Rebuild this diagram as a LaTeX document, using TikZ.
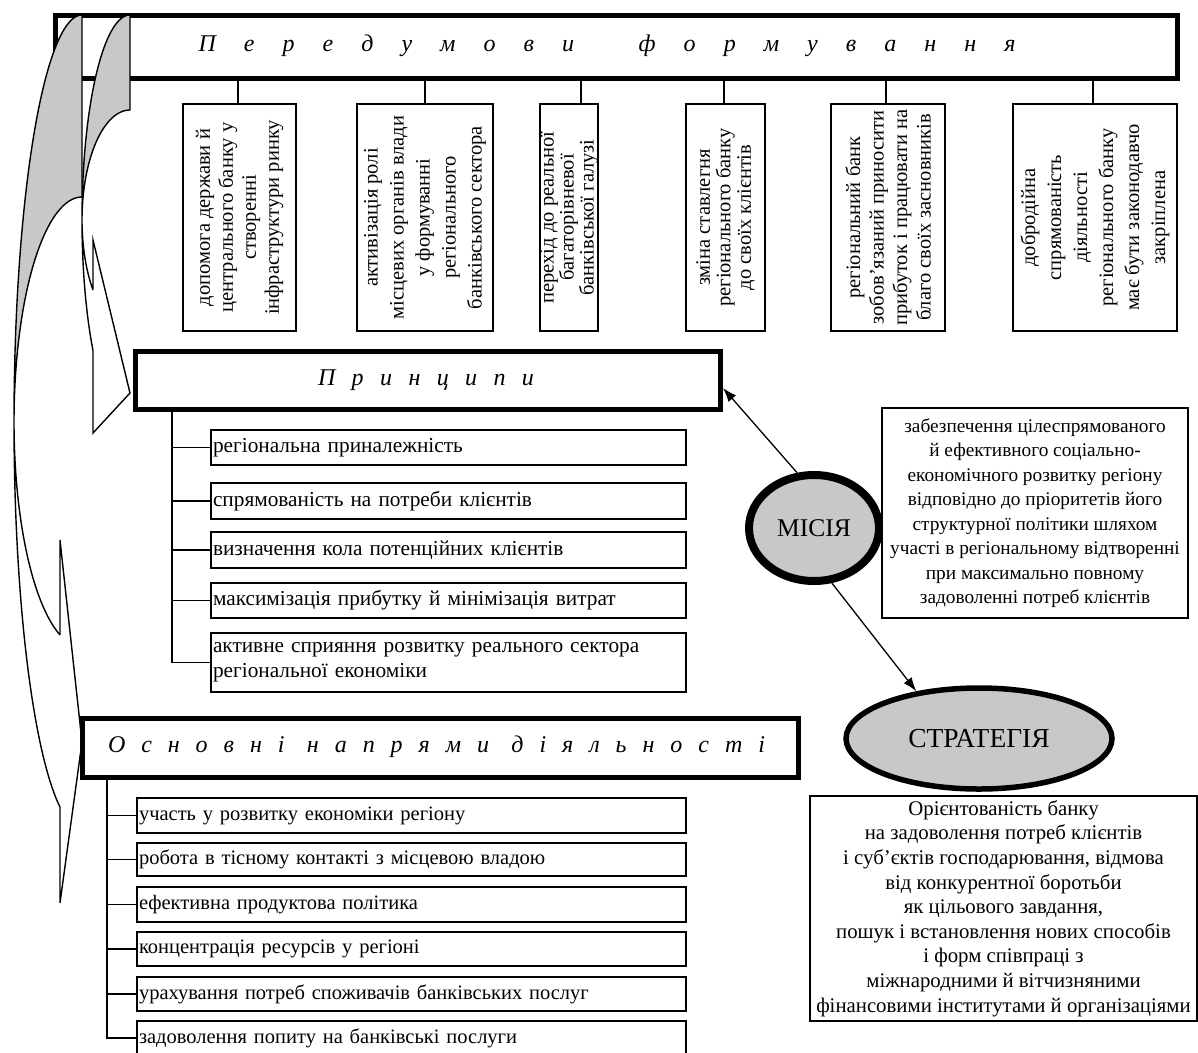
\documentclass[tikz,border=0pt]{standalone}
\usepackage{fontspec}
\setmainfont{Liberation Serif}
\usetikzlibrary{arrows.meta,shapes.geometric}
\definecolor{ltgray}{RGB}{200,200,200}
\newcommand\vtxt[2]{\rotatebox{90}{\parbox{222pt}{\centering\fontsize{20.5}{#1}\selectfont #2}}}
\begin{document}
\begin{tikzpicture}[x=1pt,y=-1pt,
  title/.style={draw, line width=5pt, inner sep=0pt},
  ttl/.style={inner sep=0pt, font=\fontsize{24}{28}\selectfont\itshape},
  vbox/.style={draw, line width=1.3pt, inner sep=0pt, minimum height=227},
  pitem/.style={draw, line width=1.3pt, inner xsep=2pt, inner ysep=0pt, align=left, text width=471pt, minimum width=475, font=\fontsize{21.3}{25}\selectfont},
  ditem/.style={draw, line width=1.3pt, inner xsep=2pt, inner ysep=0pt, align=left, text width=545pt, minimum width=549, font=\fontsize{20.5}{25}\selectfont},
  conn/.style={line width=1.4pt},
  arr/.style={line width=1.3pt, -{Latex[length=14pt,width=10pt]}},
  oval/.style={ellipse, draw, fill=ltgray, inner sep=0pt},
  txtbox/.style={draw, line width=1.3pt, align=center, inner sep=0pt},
  shp/.style={line width=1.4pt}]
\useasboundingbox (0,0) rectangle (1198,1052);

% ---------- top header ----------
\node[title, minimum width=1122, minimum height=63] (hdr) at (616,46.5) {};
\node[ttl] (hdrtxt) at (607,46) {\makebox[817pt]{П\hfill е\hfill р\hfill е\hfill д\hfill у\hfill м\hfill о\hfill в\hfill и\hskip 0pt plus 2.3fill ф\hfill о\hfill р\hfill м\hfill у\hfill в\hfill а\hfill н\hfill н\hfill я}};

% ---------- vertical boxes ----------
\node[vbox, minimum width=113] (v1) at (239.5,217.5) {\vtxt{23}{допомога держави й\\центрального банку у\\створенні\\інфраструктури ринку}};
\node[vbox, minimum width=136] (v2) at (425,217.5) {\vtxt{26}{активізація ролі\\місцевих органів влади\\у формуванні\\регіонального\\банківського сектора}};
\node[vbox, minimum width=56] (v3) at (569,217.5) {\vtxt{18.5}{перехід до реальної\\багаторівневої\\банківської галузі}};
\node[vbox, minimum width=79] (v4) at (725.5,217.5) {\vtxt{20.5}{зміна ставлегня\\регіонального банку\\до своїх клієнтів}};
\node[vbox, minimum width=114] (v5) at (888,217.5) {\vtxt{23.5}{регіональний банк\\зобов’язаний приносити\\прибуток і працювати на\\благо своїх засновників}};
\node[vbox, minimum width=164] (v6) at (1095,217.5) {\vtxt{26}{добродійна\\спрямованість\\діяльності\\регіонального банку\\має бути законодавчо\\закріплена}};

\foreach \n/\xx in {1/238,2/425,3/581,4/724,5/886,6/1093}{
  \coordinate (c\n) at (\xx,0);
  \draw[conn] (c\n |- hdr.south) -- (c\n |- v\n.north);
}

% ---------- principles ----------
\node[title, minimum width=585, minimum height=58] (pr) at (427.5,380) {};
\node[ttl] (prtxt) at (426,380) {\makebox[216pt]{П\hfill р\hfill и\hfill н\hfill ц\hfill и\hfill п\hfill и}};

\node[pitem, minimum height=35] (p1) at (448.5,447.5) {регіональна приналежність};
\node[pitem, minimum height=36] (p2) at (448.5,501) {спрямованість на потреби клієнтів};
\node[pitem, minimum height=36] (p3) at (448.5,550) {визначення кола потенційних клієнтів};
\node[pitem, minimum height=35] (p4) at (448.5,600.5) {максимізація прибутку й мінімізація витрат};
\node[pitem, minimum height=59] (p5) at (448.5,662.5) {активне сприяння розвитку реального сектора\\регіональної економіки};

\coordinate (pt) at (172,0);
\draw[conn] (pt |- pr.south) -- (pt |- p5.west) -- (p5.west);
\foreach \n in {1,2,3,4}{ \draw[conn] (pt |- p\n.west) -- (p\n.west); }

% ---------- directions ----------
\node[title, minimum width=716, minimum height=59] (dr) at (440,747.5) {};
\node[ttl] (drtxt) at (436.5,747) {\makebox[657pt]{О\hfill с\hfill н\hfill о\hfill в\hfill н\hfill і\hskip 0pt plus 1.4fill н\hfill а\hfill п\hfill р\hfill я\hfill м\hfill и\hskip 0pt plus 1.4fill д\hfill і\hfill я\hfill л\hfill ь\hfill н\hfill о\hfill с\hfill т\hfill і}};

\node[ditem, minimum height=35] (d1) at (411.5,815.5) {участь у розвитку економіки регіону};
\node[ditem, minimum height=33] (d2) at (411.5,859.5) {робота в тісному контакті з місцевою владою};
\node[ditem, minimum height=35] (d3) at (411.5,904.5) {ефективна продуктова політика};
\node[ditem, minimum height=34] (d4) at (411.5,949) {концентрація ресурсів у регіоні};
\node[ditem, minimum height=34] (d5) at (411.5,994) {урахування потреб споживачів банківських послуг};
\node[ditem, minimum height=34] (d6) at (411.5,1038) {задоволення попиту на банківські послуги};

\coordinate (dt) at (107,0);
\draw[conn] (dt |- dr.south) -- (dt |- d6.west) -- (d6.west);
\foreach \n in {1,2,3,4,5}{ \draw[conn] (dt |- d\n.west) -- (d\n.west); }

% ---------- mission / strategy ----------
\node[oval, line width=8pt, minimum width=130, minimum height=106, font=\fontsize{25.5}{28}\selectfont] (mis) at (814,528) {МІСІЯ};
\node[txtbox, minimum width=306, minimum height=210, font=\fontsize{19.3}{24.5}\selectfont] (mtx) at (1035,513) {забезпечення цілеспрямованого\\й ефективного соціально-\\економічного розвитку регіону\\відповідно до пріоритетів його\\структурної політики шляхом\\участі в регіональному відтворенні\\при максимально повному\\задоволенні потреб клієнтів};

\node[oval, line width=5.5pt, minimum width=266, minimum height=101, font=\fontsize{27.5}{30}\selectfont] (str) at (979,738.5) {СТРАТЕГІЯ};
\node[txtbox, minimum width=387, minimum height=225, font=\fontsize{20.8}{24.6}\selectfont] (stx) at (1003.5,908.5) {Орієнтованість банку\\на задоволення потреб клієнтів\\і суб’єктів господарювання, відмова\\від конкурентної боротьби\\як цільового завдання,\\пошук і встановлення нових способів\\і форм співпраці з\\міжнародними й вітчизняними\\фінансовими інститутами й організаціями};

\coordinate (pa) at (723,388);
\draw[arr] (mis.107) -- (pa);
\draw[arr] (mis.-72) -- (str.143);

% ---------- curved arrows (left) ----------
% inner arrow (to principles)
\fill[ltgray] plot[domain=270:180,samples=40,variable=\t] ({130+48*cos(\t)},{220+205*sin(\t)})
  -- plot[domain=180:270,samples=40,variable=\t] ({130+48*cos(\t)},{220+110*sin(\t)}) -- cycle;
\draw[shp, line join=miter] plot[domain=270:140.4,samples=60,variable=\t] ({130+48*cos(\t)},{220+205*sin(\t)})
  -- (93,433) -- (130,393) -- (93,240) -- (93,290)
  -- plot[domain=140.4:270,samples=60,variable=\t] ({130+48*cos(\t)},{220+110*sin(\t)}) -- cycle;
% outer arrow (to directions)
\fill[ltgray] plot[domain=270:180,samples=60,variable=\t] ({82+68*cos(\t)},{422+407*sin(\t)})
  -- plot[domain=180:270,samples=60,variable=\t] ({82+68*cos(\t)},{422+225*sin(\t)}) -- cycle;
\draw[shp, line join=miter] plot[domain=270:108.87,samples=90,variable=\t] ({82+68*cos(\t)},{422+407*sin(\t)})
  -- (60,903) -- (82,742) -- (60,540) -- (60,635)
  -- plot[domain=108.87:270,samples=90,variable=\t] ({82+68*cos(\t)},{422+225*sin(\t)}) -- cycle;
\end{tikzpicture}
\end{document}
